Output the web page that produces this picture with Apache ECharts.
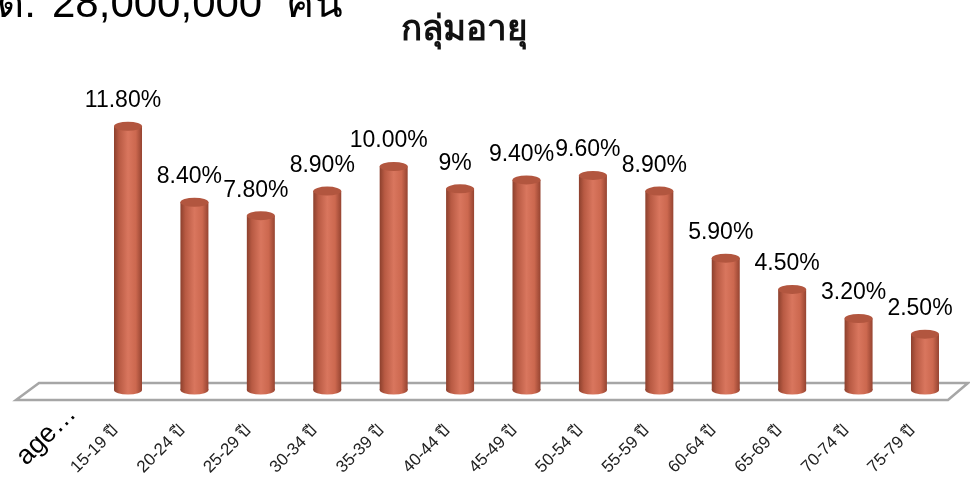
<!DOCTYPE html>
<html>
<head>
<meta charset="utf-8">
<script src="https://cdn.jsdelivr.net/npm/echarts@6/dist/echarts.min.js"></script>
<style>
  html, body { margin: 0; padding: 0; background: #fff; }
  #main { width: 970px; height: 479px; }
</style>
</head>
<body>
<div id="main"></div>
<script>
const FONT = '"Liberation Sans", "DejaVu Sans", "Noto Sans", sans-serif';

const categories = ['15-19 ปี', '20-24 ปี', '25-29 ปี', '30-34 ปี', '35-39 ปี', '40-44 ปี', '45-49 ปี',
  '50-54 ปี', '55-59 ปี', '60-64 ปี', '65-69 ปี', '70-74 ปี', '75-79 ปี'];
const values = [11.8, 8.4, 7.8, 8.9, 10.0, 9.0, 9.4, 9.6, 8.9, 5.9, 4.5, 3.2, 2.5];
const valueLabels = ['11.80%', '8.40%', '7.80%', '8.90%', '10.00%', '9%', '9.40%', '9.60%', '8.90%',
  '5.90%', '4.50%', '3.20%', '2.50%'];

const chart = echarts.init(document.getElementById('main'));

// cylinder body: darker edges, light centre
const bodyColor = new echarts.graphic.LinearGradient(0, 0, 1, 0, [
  { offset: 0, color: '#8c402d' },
  { offset: 0.18, color: '#b85a43' },
  { offset: 0.5, color: '#d9765e' },
  { offset: 0.78, color: '#cc684f' },
  { offset: 1, color: '#964431' },
]);

chart.setOption({
  animation: false,
  grid: { left: 94.8, right: 11.8, top: 121.8, bottom: 89 },
  xAxis: {
    type: 'category',
    data: categories,
    axisLine: { show: false },
    axisTick: { show: false },
    axisLabel: {
      interval: 0,
      rotate: 45,
      margin: 38,
      verticalAlign: 'bottom',
      formatter: v => '{a|' + v + '}',
      rich: {
        a: { padding: [0, 9, 0, 0], fontSize: 17, color: '#222', fontFamily: FONT },
      },
    },
  },
  yAxis: {
    type: 'value',
    min: 0,
    max: 12,
    show: false,
    splitLine: { show: false },
  },
  graphic: [
    {
      type: 'polygon',
      z: 0,
      shape: { points: [[16, 400], [39, 383], [968, 383], [948, 400]] },
      style: { fill: '#fff', stroke: '#a6a6a6', lineWidth: 2.5 },
    },
    {
      type: 'text',
      x: 464,
      y: 30,
      style: { text: 'กลุ่มอายุ', font: 'bold 35px ' + FONT, fill: '#111', align: 'center', verticalAlign: 'middle' },
    },
    {
      type: 'text',
      x: 52,
      y: 5,
      style: { text: '28,000,000  คน', font: '42px ' + FONT, fill: '#000', verticalAlign: 'middle', align: 'left' },
    },
    {
      type: 'text',
      x: 36,
      y: 5,
      style: { text: 'ทั้งหมด:', font: '42px ' + FONT, fill: '#000', verticalAlign: 'middle', align: 'right' },
    },
    {
      type: 'text',
      x: 72,
      y: 410,
      rotation: Math.PI / 4,
      style: { text: 'age…', font: '27px ' + FONT, fill: '#000', verticalAlign: 'middle', align: 'right' },
    },
  ],
  series: [
    {
      type: 'bar',
      data: values,
      barWidth: 28,
      z: 2,
      itemStyle: { color: bodyColor },
      label: {
        show: true,
        position: 'top',
        distance: 14,
        offset: [-5, 0],
        fontSize: 23,
        color: '#000',
        fontFamily: FONT,
        formatter: p => valueLabels[p.dataIndex],
      },
    },
    {
      type: 'pictorialBar',
      data: values,
      symbol: 'circle',
      symbolSize: [28, 9],
      symbolPosition: 'end',
      symbolOffset: [0, '-50%'],
      z: 3,
      itemStyle: { color: '#b2563f' },
    },
    {
      type: 'pictorialBar',
      data: values,
      symbol: 'circle',
      symbolSize: [28, 9],
      symbolPosition: 'start',
      symbolOffset: [0, '50%'],
      z: 1,
      itemStyle: { color: bodyColor },
    },
  ],
});
</script>
</body>
</html>
